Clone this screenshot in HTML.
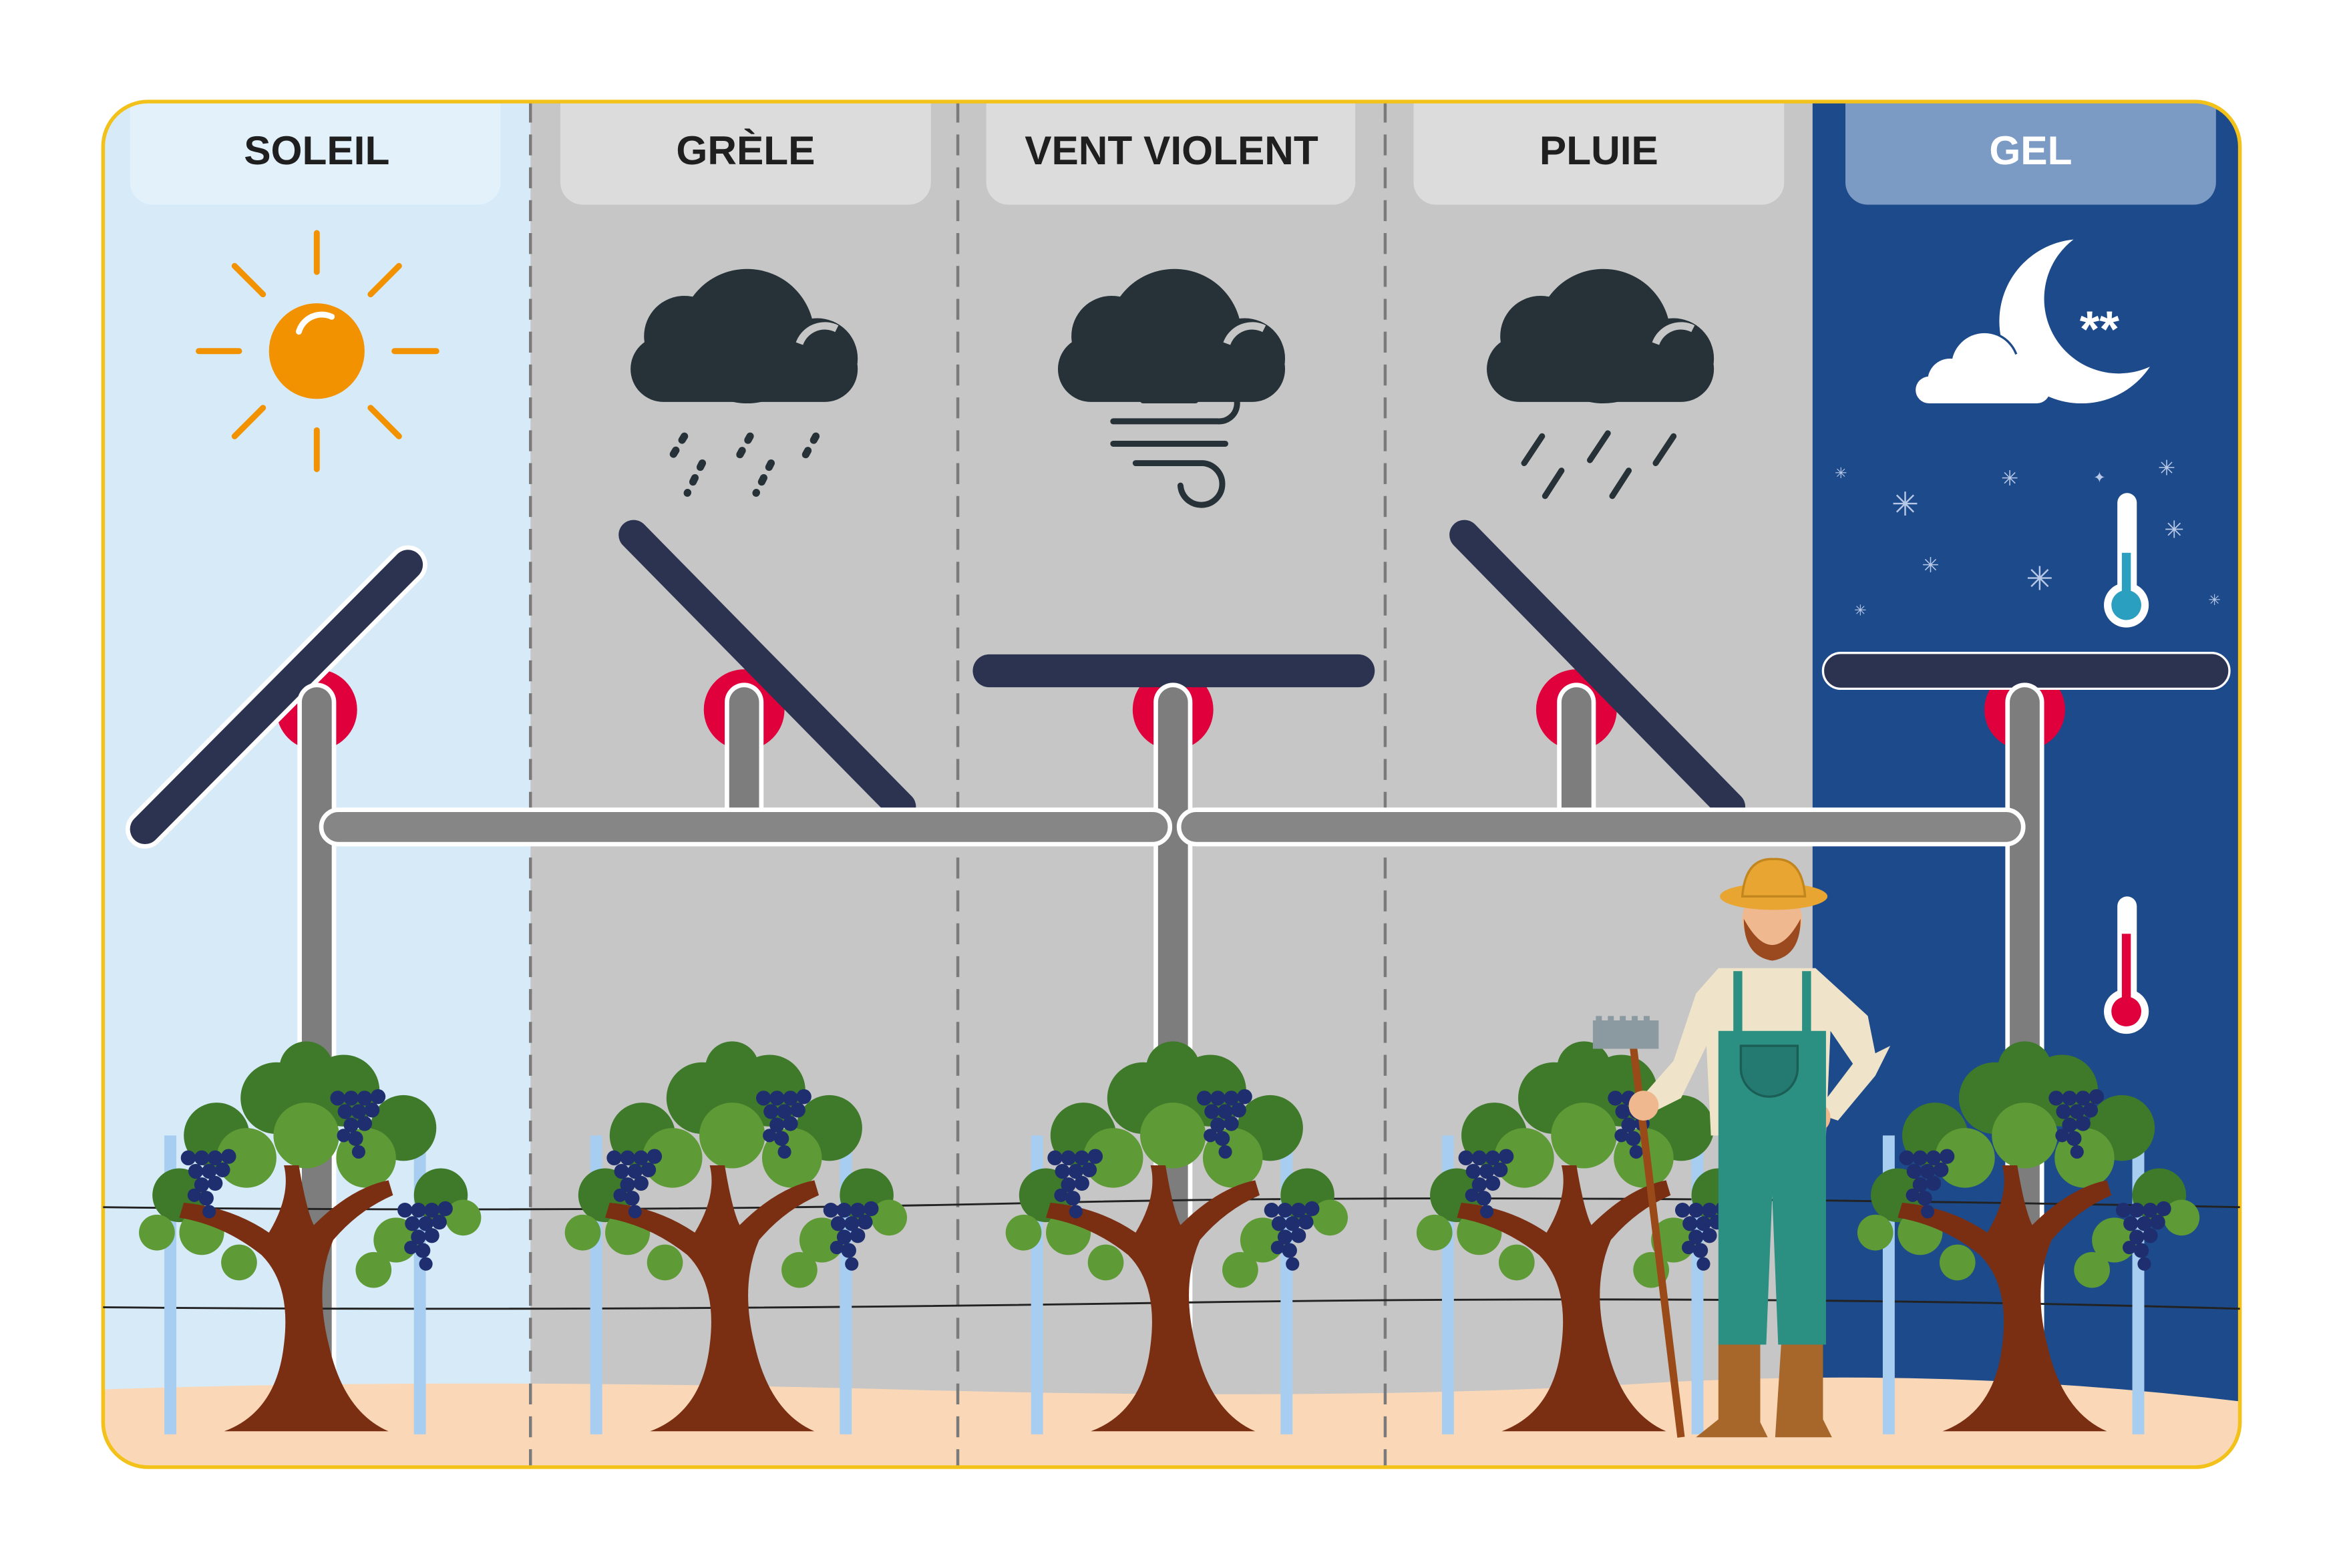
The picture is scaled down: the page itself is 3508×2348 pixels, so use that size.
<!DOCTYPE html>
<html><head><meta charset="utf-8"><style>
html,body{margin:0;padding:0;background:#fff;width:3508px;height:2348px;overflow:hidden}
svg{display:block}
text{font-family:"Liberation Sans","DejaVu Sans",sans-serif;font-weight:bold}
</style></head><body>
<svg width="3508" height="2348" viewBox="0 0 1568 1049.5" preserveAspectRatio="none" xmlns="http://www.w3.org/2000/svg">
<defs>
<clipPath id="fr"><rect x="69" y="68" width="1430" height="914" rx="30"/></clipPath>
<mask id="moon"><rect x="1200" y="100" width="300" height="250" fill="#fff"/><circle cx="1418" cy="200" r="50" fill="#000"/></mask>
<g id="grape">
<circle cx="0" cy="0" r="5"/><circle cx="9" cy="0" r="5"/><circle cx="-9" cy="0" r="5"/><circle cx="18" cy="-1" r="5"/>
<circle cx="-4" cy="9" r="5"/><circle cx="5" cy="9" r="5"/><circle cx="14" cy="8" r="5"/>
<circle cx="0" cy="18" r="5"/><circle cx="9" cy="17" r="5"/><circle cx="3" cy="27" r="5"/><circle cx="-5" cy="25" r="4.5"/><circle cx="5" cy="36" r="4.5"/>
</g>
<g id="vine">
<rect x="-95" y="760" width="8" height="200" fill="#a7cdf0"/>
<rect x="72" y="760" width="8" height="200" fill="#a7cdf0"/>
<g fill="#3f7a2a">
<circle cx="-60" cy="760" r="22"/><circle cx="-20" cy="735" r="24"/><circle cx="25" cy="730" r="24"/><circle cx="65" cy="755" r="22"/>
<circle cx="-85" cy="800" r="18"/><circle cx="90" cy="800" r="18"/><circle cx="0" cy="715" r="18"/>
</g>
<g fill="#5e9a35">
<circle cx="-40" cy="775" r="20"/><circle cx="40" cy="775" r="20"/><circle cx="0" cy="760" r="22"/>
<circle cx="-70" cy="825" r="15"/><circle cx="60" cy="830" r="15"/><circle cx="-45" cy="845" r="12"/><circle cx="45" cy="850" r="12"/>
<circle cx="-100" cy="825" r="12"/><circle cx="105" cy="815" r="12"/>
</g>
<path d="M-55 958 Q-20 945 -15 900 Q-10 860 -30 840 Q-55 820 -85 815 L-82 805 Q-50 808 -25 825 Q-10 800 -15 780 L-5 780 Q0 810 5 820 Q30 795 55 790 L58 800 Q35 810 18 830 Q5 860 15 900 Q25 945 55 958 Z" fill="#7a2e12"/>
<g fill="#1f2e6e">
<use href="#grape" x="-70" y="775"/><use href="#grape" x="30" y="735"/><use href="#grape" x="75" y="810"/>
</g>
</g>
</defs>

<g clip-path="url(#fr)">
<rect x="69" y="68" width="286" height="914" fill="#d6eaf8"/>
<rect x="355" y="68" width="858" height="914" fill="#c6c6c6"/>
<rect x="1213" y="68" width="286" height="914" fill="#1d4a8a"/>
<path d="M69 930 Q300 922 600 930 T1100 926 T1499 938 L1499 982 L69 982 Z" fill="#fad8b7"/>
<g stroke="#7a7a7a" stroke-width="2" stroke-dasharray="14 8">
<line x1="355" y1="68" x2="355" y2="982"/><line x1="641" y1="68" x2="641" y2="982"/><line x1="927" y1="68" x2="927" y2="982"/>
</g>
<rect x="87" y="50" width="248" height="87" rx="15" fill="#e3f1fb"/>
<rect x="375" y="50" width="248" height="87" rx="15" fill="#dcdcdc"/>
<rect x="660" y="50" width="247" height="87" rx="15" fill="#dcdcdc"/>
<rect x="946" y="50" width="248" height="87" rx="15" fill="#dcdcdc"/>
<rect x="1235" y="50" width="248" height="87" rx="15" fill="#7b9bc4"/>
</g>
<rect x="69" y="68" width="1430" height="914" rx="30" fill="none" stroke="#f3c21a" stroke-width="2.5"/>
<g font-size="27" text-anchor="middle" fill="#1f1f1f">
<text x="212" y="110">SOLEIL</text><text x="499" y="110">GRÈLE</text><text x="784" y="110">VENT VIOLENT</text><text x="1070" y="110">PLUIE</text><text x="1359" y="110" fill="#fff">GEL</text>
</g>

<circle cx="212" cy="235" r="32" fill="#f39200"/>
<path d="M200 222 A16 16 0 0 1 222 212" stroke="#fff" stroke-width="4" fill="none" stroke-linecap="round"/>
<g stroke="#f39200" stroke-width="4" stroke-linecap="round">
<line x1="212" y1="156" x2="212" y2="182"/><line x1="212" y1="288" x2="212" y2="314"/>
<line x1="133" y1="235" x2="160" y2="235"/><line x1="264" y1="235" x2="292" y2="235"/>
<line x1="157" y1="178" x2="176" y2="197"/><line x1="248" y1="273" x2="267" y2="292"/>
<line x1="267" y1="178" x2="248" y2="197"/><line x1="157" y1="292" x2="176" y2="273"/>
</g>

<g fill="#263238">
<g id="cl"><circle cx="500" cy="225" r="45"/><circle cx="458" cy="225" r="27"/><circle cx="547" cy="240" r="27"/><rect x="422" y="225" width="152" height="44" rx="22"/></g>
<use href="#cl" x="286"/><use href="#cl" x="573"/>
</g>
<g fill="none" stroke="#c6c6c6" stroke-width="5">
<path d="M535 230 A18 18 0 0 1 560 220"/><path d="M821 230 A18 18 0 0 1 846 220"/><path d="M1108 230 A18 18 0 0 1 1133 220"/>
</g>
<g stroke="#263238" stroke-width="5" stroke-linecap="round" stroke-dasharray="3 8">
<line x1="458" y1="292" x2="447" y2="310"/><line x1="470" y1="310" x2="460" y2="330"/><line x1="502" y1="292" x2="492" y2="310"/><line x1="516" y1="310" x2="506" y2="330"/><line x1="546" y1="292" x2="536" y2="310"/>
</g>
<g stroke="#263238" stroke-width="4" stroke-linecap="round">
<line x1="1032" y1="292" x2="1020" y2="310"/><line x1="1045" y1="315" x2="1034" y2="332"/><line x1="1076" y1="290" x2="1064" y2="308"/><line x1="1090" y1="315" x2="1079" y2="332"/><line x1="1120" y1="292" x2="1108" y2="310"/>
</g>
<g fill="none" stroke="#263238" stroke-width="4" stroke-linecap="round">
<path d="M745 282 H815 A12 12 0 1 0 805 265"/><path d="M745 297 H820"/><path d="M760 310 H805 A14 14 0 1 1 790 325"/><path d="M765 268 H800"/>
</g>

<!-- gel icon -->
<circle cx="1393" cy="215" r="55" fill="#fff" mask="url(#moon)"/>
<g fill="#fff" stroke="#1d4a8a" stroke-width="3"><circle cx="1328" cy="245" r="22"/></g>
<g fill="#fff"><circle cx="1328" cy="245" r="22"/><circle cx="1305" cy="255" r="15"/><circle cx="1355" cy="252" r="16"/><rect x="1282" y="252" width="90" height="18" rx="9"/></g>
<text x="1405" y="232" font-size="34" fill="#fff" text-anchor="middle">**</text>
<g fill="#b8c8e8" font-size="22" text-anchor="middle">
<text x="1275" y="345">✳</text><text x="1365" y="395">✳</text><text x="1345" y="325" font-size="14">✳</text><text x="1455" y="360" font-size="16">✳</text><text x="1292" y="383" font-size="14">✳</text><text x="1450" y="318" font-size="14">✳</text><text x="1232" y="320" font-size="10">✳</text><text x="1245" y="412" font-size="10">✳</text><text x="1482" y="405" font-size="10">✳</text><text x="1405" y="323" font-size="10">✦</text>
</g>
<rect x="1417" y="330" width="13" height="80" rx="6.5" fill="#fff"/><circle cx="1423" cy="405" r="15" fill="#fff"/><circle cx="1423" cy="405" r="10" fill="#2a9fc0"/><rect x="1420" y="370" width="6" height="35" fill="#2a9fc0"/>
<rect x="1417" y="600" width="13" height="80" rx="6.5" fill="#fff"/><circle cx="1423" cy="677" r="15" fill="#fff"/><circle cx="1423" cy="677" r="10" fill="#e0003c"/><rect x="1420" y="625" width="6" height="50" fill="#e0003c"/>

<g fill="#e0003c"><circle cx="212" cy="475" r="27"/><circle cx="498" cy="475" r="27"/><circle cx="785" cy="475" r="27"/><circle cx="1055" cy="475" r="27"/><circle cx="1355" cy="475" r="27"/></g>

<g stroke="#fff" stroke-width="26" stroke-linecap="round"><line x1="97" y1="555" x2="273" y2="378"/></g>
<g stroke="#2c3350" stroke-linecap="round" stroke-width="20">
<line x1="97" y1="555" x2="273" y2="378"/><line x1="424" y1="358" x2="603" y2="540"/><line x1="980" y1="358" x2="1158" y2="540"/>
</g>
<rect x="651" y="438" width="269" height="22" rx="11" fill="#2c3350"/>
<rect x="1220" y="437" width="272" height="24" rx="12" fill="#2c3350" stroke="#fff" stroke-width="1.5"/>

<g stroke="#fff" stroke-width="26" stroke-linecap="round">
<line x1="212" y1="470" x2="212" y2="930"/><line x1="785" y1="470" x2="785" y2="930"/><line x1="1355" y1="470" x2="1355" y2="930"/><line x1="498" y1="470" x2="498" y2="545"/><line x1="1055" y1="470" x2="1055" y2="545"/>
</g>
<g stroke="#7d7d7d" stroke-width="20" stroke-linecap="round">
<line x1="212" y1="470" x2="212" y2="930"/><line x1="785" y1="470" x2="785" y2="930"/><line x1="1355" y1="470" x2="1355" y2="930"/><line x1="498" y1="470" x2="498" y2="545"/><line x1="1055" y1="470" x2="1055" y2="545"/>
</g>
<rect x="215" y="542" width="568" height="23" rx="11.5" fill="#868686" stroke="#fff" stroke-width="3"/>
<rect x="789" y="542" width="565" height="23" rx="11.5" fill="#868686" stroke="#fff" stroke-width="3"/>

<g stroke="#222" stroke-width="1.3" fill="none">
<path d="M69 808 Q400 812 700 805 T1499 808"/><path d="M69 875 Q400 878 780 872 T1499 876"/>
</g>

<use href="#vine" x="205"/><use href="#vine" x="490"/><use href="#vine" x="785"/><use href="#vine" x="1060"/><use href="#vine" x="1355"/>

<g>
<line x1="1093" y1="700" x2="1125" y2="962" stroke="#9a4a18" stroke-width="5"/>
<path d="M1068 685 h40 v15 h-40 z M1070 680 v12 M1078 680 v12 M1086 680 v12 M1094 680 v12 M1102 680 v12" stroke="#8b9aa0" stroke-width="4" fill="#8b9aa0"/>
<path d="M1150 648 L1215 648 L1250 680 L1255 705 L1265 700 L1255 720 L1230 750 L1215 745 L1240 712 L1225 690 L1222 760 L1145 760 L1142 700 L1125 735 L1105 745 L1098 735 L1120 710 L1135 665 Z" fill="#efe4c9"/>
<circle cx="1100" cy="740" r="10" fill="#f0b88e"/><circle cx="1215" cy="748" r="10" fill="#f0b88e"/>
<path d="M1150 690 L1222 690 L1222 900 L1190 900 L1186 800 L1182 900 L1150 900 Z" fill="#2b8f82"/>
<rect x="1160" y="650" width="6" height="45" fill="#2b8f82"/><rect x="1206" y="650" width="6" height="45" fill="#2b8f82"/>
<path d="M1165 700 h38 v15 a19 19 0 0 1 -38 0 z" fill="#247a70" stroke="#1a5e56" stroke-width="1.5"/>
<path d="M1150 900 h28 v52 l5 10 h-48 l15 -12 z" fill="#a8672a"/>
<path d="M1192 900 h28 v50 l6 12 h-38 z" fill="#a8672a"/>
<circle cx="1186" cy="615" r="20" fill="#f0b88e"/>
<path d="M1167 615 q19 35 38 0 q0 25 -19 28 q-19 -3 -19 -28z" fill="#9a4a1e"/>
<ellipse cx="1187" cy="600" rx="36" ry="9" fill="#e8a531"/>
<path d="M1166 600 q2 -26 21 -25 q19 -1 21 25 z" fill="#e8a531" stroke="#c2861e" stroke-width="1.5"/>
</g>
</svg>
</body></html>
